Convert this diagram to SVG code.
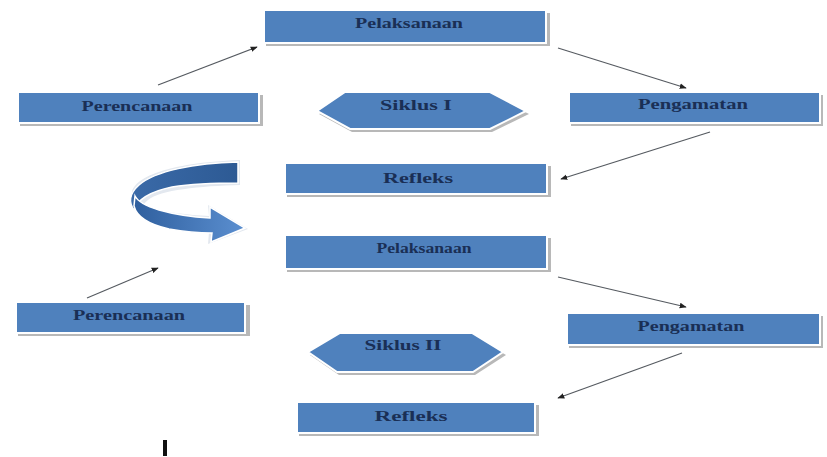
<svg xmlns="http://www.w3.org/2000/svg" width="827" height="457" viewBox="0 0 827 457">
<defs>
<style>
.box{fill:#4f81bd;stroke:#ffffff;stroke-width:2}
.sh{fill:#b8b8b8}
.lbl{font-family:"Liberation Serif","Times New Roman",serif;font-weight:bold;font-size:14px;fill:#1a2f55;text-anchor:middle}
.con{stroke:#555a60;stroke-width:1.2;fill:none;marker-end:url(#ah)}
</style>
<marker id="ah" viewBox="0 0 10 10" refX="9" refY="5" markerWidth="7" markerHeight="7" orient="auto" markerUnits="userSpaceOnUse">
<path d="M0,1 L10,5 L0,9 z" fill="#222"/>
</marker>
<linearGradient id="lowband" x1="0" y1="0" x2="1" y2="0">
<stop offset="0" stop-color="#2f5f9e"/>
<stop offset="1" stop-color="#5b8fd0"/>
</linearGradient>
<linearGradient id="topband" x1="0" y1="0" x2="1" y2="0">
<stop offset="0" stop-color="#3a6aa8"/>
<stop offset="1" stop-color="#2d5a94"/>
</linearGradient>
</defs>
<rect width="827" height="457" fill="#ffffff"/>

<g id="connectors">
<line class="con" x1="158" y1="85" x2="257" y2="47"/>
<line class="con" x1="558" y1="48" x2="686" y2="88"/>
<line class="con" x1="710" y1="132" x2="561" y2="179"/>
<line class="con" x1="87" y1="298" x2="158" y2="268"/>
<line class="con" x1="558" y1="277" x2="686" y2="307"/>
<line class="con" x1="682" y1="353" x2="558" y2="398"/>
</g>

<g id="pelaksanaan1">
<rect class="sh" x="266" y="13" width="284" height="33"/>
<rect class="box" x="264" y="10" width="282" height="33"/>
<text class="lbl" x="409" y="28" textLength="108" lengthAdjust="spacingAndGlyphs">Pelaksanaan</text>
</g>

<g id="perencanaan1">
<rect class="sh" x="20" y="95" width="243" height="31"/>
<rect class="box" x="18" y="92" width="241" height="31"/>
<text class="lbl" x="137" y="111" textLength="111" lengthAdjust="spacingAndGlyphs">Perencanaan</text>
</g>

<g id="siklus1">
<polygon class="sh" points="319,114 347,95 492,95 529,114 492,132 352,132"/>
<polygon class="box" points="317,111 345,92 490,92 526,111 490,129 350,129"/>
<text class="lbl" x="416" y="110" textLength="72" lengthAdjust="spacingAndGlyphs">Siklus I</text>
</g>

<g id="pengamatan1">
<rect class="sh" x="571" y="95" width="252" height="31"/>
<rect class="box" x="569" y="92" width="251" height="31"/>
<text class="lbl" x="693" y="109" textLength="110" lengthAdjust="spacingAndGlyphs">Pengamatan</text>
</g>

<g id="refleksi1">
<rect class="sh" x="287" y="166" width="264" height="31"/>
<rect class="box" x="285" y="163" width="262" height="31"/>
<text class="lbl" x="418" y="183" textLength="70" lengthAdjust="spacingAndGlyphs">Refleks</text>
</g>

<g id="curved-arrow">
<path d="M240,160 L240,185 C200,186 160,190 148,200 C140,206 142,214 155,221 C172,228 192,231 209,232 L208,244 L248,229 L208,205 L209,216 C188,215 165,212 150,208 C136,204 131,198 132,192 C135,178 165,163 240,160 Z" fill="#e3e8ef"/>
<path d="M238,162 C195,163 155,171 139,185 C129,194 129,203 134,210 C138,198 153,191 172,187 C198,183 222,183 238,183 Z" fill="url(#topband)" stroke="#ffffff" stroke-width="1.5"/>
<path d="M134,206 C137,218 151,225 169,229 C186,232 200,233 212,233 L211,242 L245,228 L210,207 L210,218 C192,217 173,214 159,210 C146,206 138,202 135,196 Z" fill="url(#lowband)" stroke="#ffffff" stroke-width="1.5"/>
</g>

<g id="pelaksanaan2">
<rect class="sh" x="287" y="238" width="264" height="34"/>
<rect class="box" x="285" y="235" width="262" height="34"/>
<text class="lbl" x="424" y="253" textLength="95" lengthAdjust="spacingAndGlyphs">Pelaksanaan</text>
</g>

<g id="perencanaan2">
<rect class="sh" x="18" y="305" width="232" height="31"/>
<rect class="box" x="16" y="302" width="229" height="31"/>
<text class="lbl" x="129" y="320" textLength="112" lengthAdjust="spacingAndGlyphs">Perencanaan</text>
</g>

<g id="pengamatan2">
<rect class="sh" x="569" y="316" width="254" height="32"/>
<rect class="box" x="567" y="313" width="253" height="32"/>
<text class="lbl" x="691" y="331" textLength="107" lengthAdjust="spacingAndGlyphs">Pengamatan</text>
</g>

<g id="siklus2">
<polygon class="sh" points="310,355 342,336 474,336 506,355 475,375 339,375"/>
<polygon class="box" points="308,352 340,333 472,333 503,352 473,372 337,372"/>
<text class="lbl" x="403" y="350" textLength="77" lengthAdjust="spacingAndGlyphs">Siklus II</text>
</g>

<g id="refleksi2">
<rect class="sh" x="299" y="405" width="240" height="31"/>
<rect class="box" x="297" y="402" width="238" height="31"/>
<text class="lbl" x="411" y="421" textLength="73" lengthAdjust="spacingAndGlyphs">Refleks</text>
</g>

<rect x="163" y="440" width="4" height="16" fill="#111"/>
</svg>
